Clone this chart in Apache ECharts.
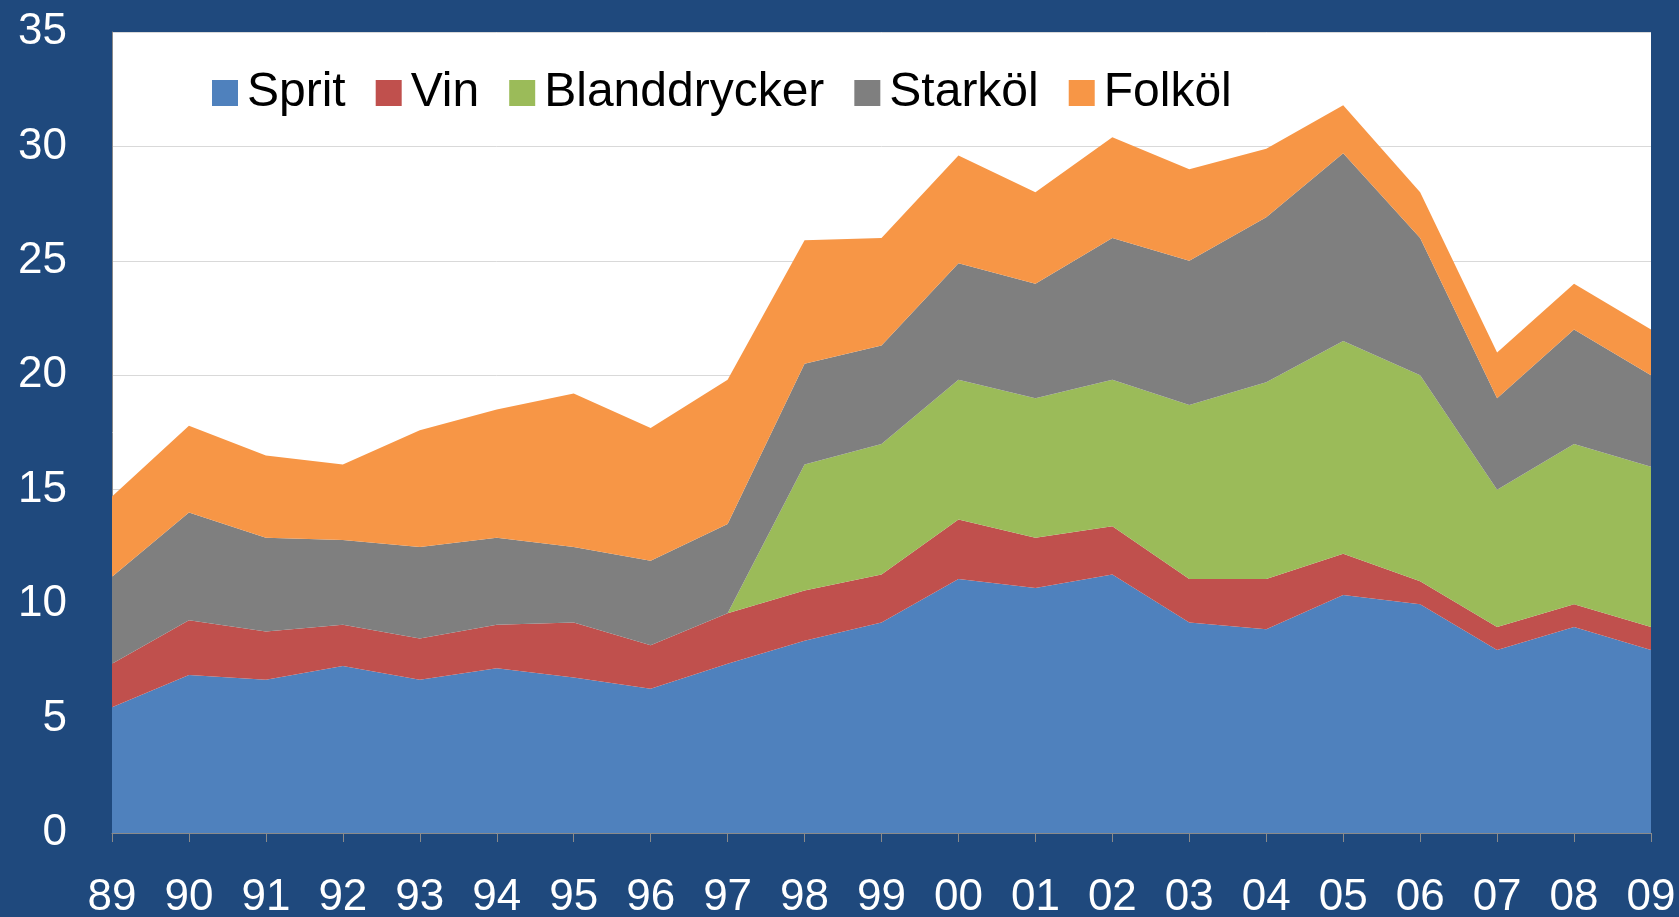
<!DOCTYPE html>
<html>
<head>
<meta charset="utf-8">
<script src="https://cdn.jsdelivr.net/npm/echarts@6/dist/echarts.min.js"></script>
<style>
html,body{margin:0;padding:0;background:#1F497D;}
#chart{width:1679px;height:917px;}
</style>
</head>
<body>
<div id="chart"></div>
<script>
const categories = ['89','90','91','92','93','94','95','96','97','98','99','00','01','02','03','04','05','06','07','08','09'];
const sprit        = [5.5,6.9,6.7,7.3,6.7,7.2,6.8,6.3,7.4,8.4,9.2,11.1,10.7,11.3,9.2,8.9,10.4,10.0,8.0,9.0,8.0];
const vin          = [1.9,2.4,2.1,1.8,1.8,1.9,2.4,1.9,2.2,2.2,2.1,2.6,2.2,2.1,1.9,2.2,1.8,1.0,1.0,1.0,1.0];
const blanddrycker = [0,0,0,0,0,0,0,0,0,5.5,5.7,6.1,6.1,6.4,7.6,8.6,9.3,9.0,6.0,7.0,7.0];
const starkol      = [3.8,4.7,4.1,3.7,4.0,3.8,3.3,3.7,3.9,4.4,4.3,5.1,5.0,6.2,6.3,7.2,8.2,6.0,4.0,5.0,4.0];
const folkol       = [3.5,3.8,3.6,3.3,5.1,5.6,6.7,5.8,6.3,5.4,4.7,4.7,4.0,4.4,4.0,3.0,2.1,2.0,2.0,2.0,2.0];
const yTicks = [0,5,10,15,20,25,30,35];

const names = ['Sprit','Vin','Blanddrycker','Starköl','Folköl'];
const colors = ['#4F81BD','#C0504D','#9BBB59','#7F7F7F','#F79646'];
const datas = [sprit, vin, blanddrycker, starkol, folkol];

const chart = echarts.init(document.getElementById('chart'), null, {renderer:'canvas'});
const fontFam = '"Liberation Sans", Arial, Helvetica, sans-serif';
chart.setOption({
  backgroundColor: '#1F497D',
  animation: false,
  grid: {left: 112, right: 28, top: 32, bottom: 84, backgroundColor: '#ffffff', show: true, borderWidth: 0,
         containLabel: false, outerBoundsMode: 'none'},
  legend: {
    left: 207, top: 64,
    itemWidth: 26, itemHeight: 26, itemGap: 30,
    icon: 'rect',
    textStyle: {color: '#000', fontSize: 48, fontFamily: fontFam, padding: [0,0,0,4]},
    data: names
  },
  xAxis: {
    type: 'category', boundaryGap: false, data: categories,
    axisLine: {show: true, lineStyle: {color: '#8a8a8a', width: 1}},
    axisTick: {show: true, length: 9, lineStyle: {color: '#8a8a8a'}},
    axisLabel: {color: '#fff', fontSize: 44, fontFamily: fontFam, margin: 43, interval: 0}
  },
  yAxis: {
    type: 'value', min: yTicks[0], max: yTicks[yTicks.length-1], interval: 5,
    axisLine: {show: true, lineStyle: {color: '#8a8a8a'}},
    axisTick: {show: false},
    splitLine: {show: true, lineStyle: {color: '#d9d9d9', width: 1}},
    axisLabel: {color: '#fff', fontSize: 44, fontFamily: fontFam, margin: 45, padding: [6,0,0,0]}
  },
  series: names.map((n, i) => ({
    name: n, type: 'line', stack: 'total', data: datas[i],
    showSymbol: false, symbol: 'none',
    lineStyle: {width: 0, color: colors[i]},
    itemStyle: {color: colors[i]},
    areaStyle: {color: colors[i], opacity: 1}
  }))
});
</script>
</body>
</html>
